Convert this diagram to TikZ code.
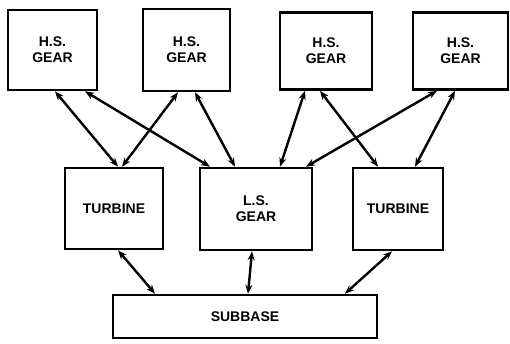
\documentclass[tikz,border=0pt]{standalone}
\usepackage{fontspec}
\setmainfont{Liberation Sans}
\usepackage{tikz}
\usetikzlibrary{arrows.meta}

\begin{document}
\begin{tikzpicture}[x=1pt,y=-1pt,
    font=\bfseries\fontsize{14}{16}\selectfont,
    blk/.style={draw,line width=2.6pt,align=center,inner sep=0pt},
    link/.style={{Stealth[length=9pt,width=7pt]}-{Stealth[length=9pt,width=7pt]},line width=2.4pt}]
    \useasboundingbox (0,0) rectangle (510,343);
    % high speed gears
    \node[blk,minimum width=89pt,minimum height=80pt] (hsa) at (52.5,50) {H.S.\\GEAR};
    \node[blk,minimum width=87pt,minimum height=82pt] (hsb) at (186.5,50) {H.S.\\GEAR};
    \node[blk,minimum width=92pt,minimum height=77pt] (hsc) at (326,51) {H.S.\\GEAR};
    \node[blk,minimum width=95pt,minimum height=77pt] (hsd) at (460.5,51) {H.S.\\GEAR};
    % middle row
    \node[blk,minimum width=98pt,minimum height=81pt] (turbl) at (114,208.5) {TURBINE};
    \node[blk,minimum width=112pt,minimum height=82pt] (lsgear) at (256,209) {L.S.\\GEAR};
    \node[blk,minimum width=90pt,minimum height=82pt] (turbr) at (398,209) {TURBINE};
    \node[blk,minimum width=264pt,minimum height=43pt] (subbase) at (245,316.5) {SUBBASE};
    % connectors
    \draw[link] ([xshift=2.5pt]hsa.south) -- ([xshift=4pt]turbl.north);
    \draw[link] ([xshift=32.5pt]hsa.south) -- ([xshift=-46pt]lsgear.north);
    \draw[link] ([xshift=-8.5pt]hsb.south) -- ([xshift=8pt]turbl.north);
    \draw[link] ([xshift=8.5pt]hsb.south) -- ([xshift=-21pt]lsgear.north);
    \draw[link] ([xshift=-21pt]hsc.south) -- ([xshift=24pt]lsgear.north);
    \draw[link] ([xshift=-6pt]hsc.south) -- ([xshift=-20pt]turbr.north);
    \draw[link] ([xshift=-23.5pt]hsd.south) -- ([xshift=50pt]lsgear.north);
    \draw[link] ([xshift=-5.5pt]hsd.south) -- ([xshift=17pt]turbr.north);
    \draw[link] ([xshift=4pt]turbl.south) -- ([xshift=-90pt]subbase.north);
    \draw[link] ([xshift=-4pt]lsgear.south) -- ([xshift=3pt]subbase.north);
    \draw[link] ([xshift=-6pt]turbr.south) -- ([xshift=100pt]subbase.north);
\end{tikzpicture}
\end{document}
